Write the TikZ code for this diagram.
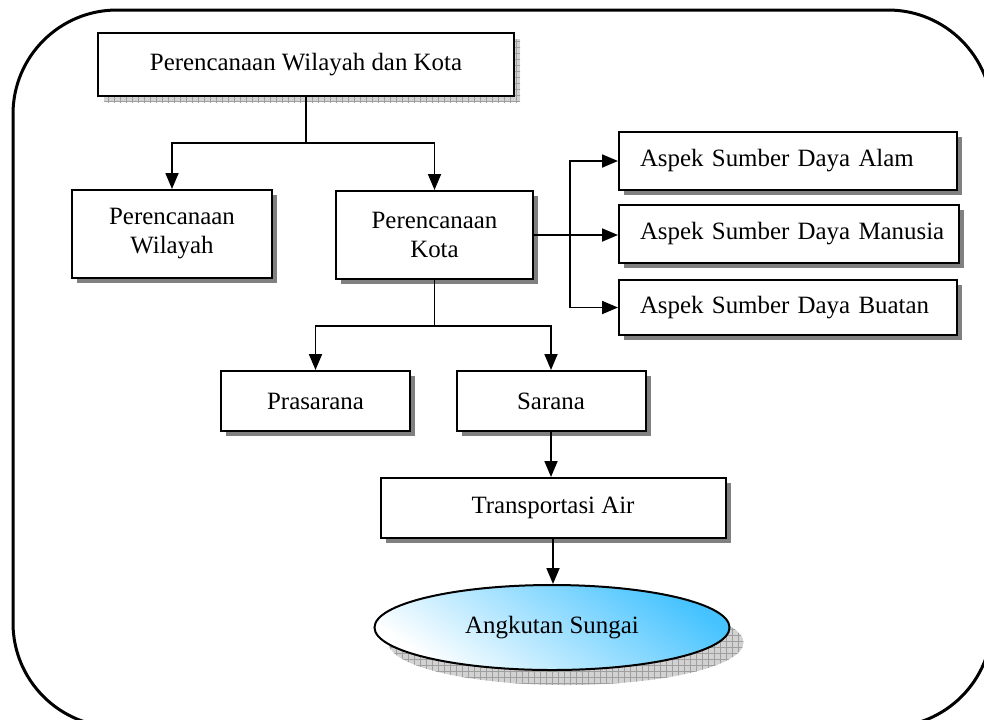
\documentclass[tikz,border=0pt]{standalone}
\usepackage{fontspec}
\setmainfont{Liberation Serif}
\usetikzlibrary{arrows.meta,positioning,shapes.geometric,shadows,patterns}
\definecolor{airblue}{RGB}{70,195,255}
\tikzset{
  box/.style={draw,line width=1pt,fill=white,align=center,inner sep=0pt,
    drop shadow={shadow xshift=2.5pt,shadow yshift=-2.5pt,fill=gray,opacity=1}},
  hatchbox/.style={draw,line width=1pt,fill=white,align=center,inner sep=0pt,
    drop shadow={shadow xshift=3pt,shadow yshift=-3pt,fill=gray!35,opacity=1,
      postaction={pattern=grid,pattern color=gray!75}}},
  aspekbox/.style={box,align=left,text width=169pt,inner xsep=0pt,
    minimum height=29pt,execute at begin node={\hspace*{10.5pt}}},
  flow/.style={line width=0.9pt,-{Triangle[length=8pt,width=6.5pt]}},
  link/.style={line width=0.9pt}
}

\begin{document}
\begin{tikzpicture}[x=0.5pt,y=-0.5pt,font=\fontsize{12.45}{14.5}\selectfont]
                \useasboundingbox (0,0) rectangle (984,719);
                \clip (0,0) rectangle (984,719);
                \draw[line width=1.5pt,rounded corners=52pt] (13,10) rectangle (992,727);

                \node[hatchbox,minimum width=208pt,minimum height=31.5pt] (top) at (306,64.5) {Perencanaan Wilayah dan Kota};
                \node[box,minimum width=100pt,minimum height=44pt] (wil) at (172,234) {Perencanaan\\Wilayah};
                \node[box,minimum width=98.5pt,minimum height=44pt] (kota) at (434.5,235) {Perencanaan\\Kota};

                \node[aspekbox] (alam) at (788,161) {Aspek Sumber Daya Alam};
                \node[aspekbox,text width=170pt] (manusia) at (789,234) {Aspek Sumber Daya Manusia};
                \node[aspekbox,minimum height=27.5pt] (buatan) at (788,307.5) {Aspek Sumber Daya Buatan};

                \node[box,minimum width=94.5pt,minimum height=30pt] (pras) at (315.5,401) {Prasarana};
                \node[box,minimum width=94.5pt,minimum height=30pt] (sarana) at (551,401) {Sarana};
                \node[box,minimum width=172.5pt,minimum height=30pt] (trans) at (553,508) {Transportasi Air};

                \node[ellipse,draw,line width=1pt,inner sep=0pt,minimum width=177.5pt,minimum height=42.5pt,
                      bottom color=white,top color=airblue,shading angle=-35,
                      drop shadow={shadow xshift=7pt,shadow yshift=-7.5pt,fill=gray!35,opacity=1,
                        postaction={pattern=grid,pattern color=gray!75}}] (sungai) at (552,627.5) {Angkutan Sungai};

                % cabang atas
                \coordinate (split1) at (306,143);
                \draw[link] (top.south) -- (split1);
                \draw[flow] (split1) -| (wil.north);
                \draw[flow] (split1) -| (kota.north);

                % aspek
                \coordinate (split2) at ([xshift=18pt]kota.east);
                \draw[flow] (kota.east) -- (kota.east -| manusia.west);
                \draw[flow] (split2) |- (alam.west);
                \draw[flow] (split2) |- (buatan.west);

                % prasarana dan sarana
                \coordinate (split3) at ([yshift=-23pt]kota.south);
                \draw[link] (kota.south) -- (split3);
                \draw[flow] (split3) -| (pras.north);
                \draw[flow] (split3) -| (sarana.north);

                \draw[flow] (sarana.south) -- (sarana.south |- trans.north);
                \draw[flow] (trans.south) -- (trans.south |- sungai.north);
\end{tikzpicture}
\end{document}
